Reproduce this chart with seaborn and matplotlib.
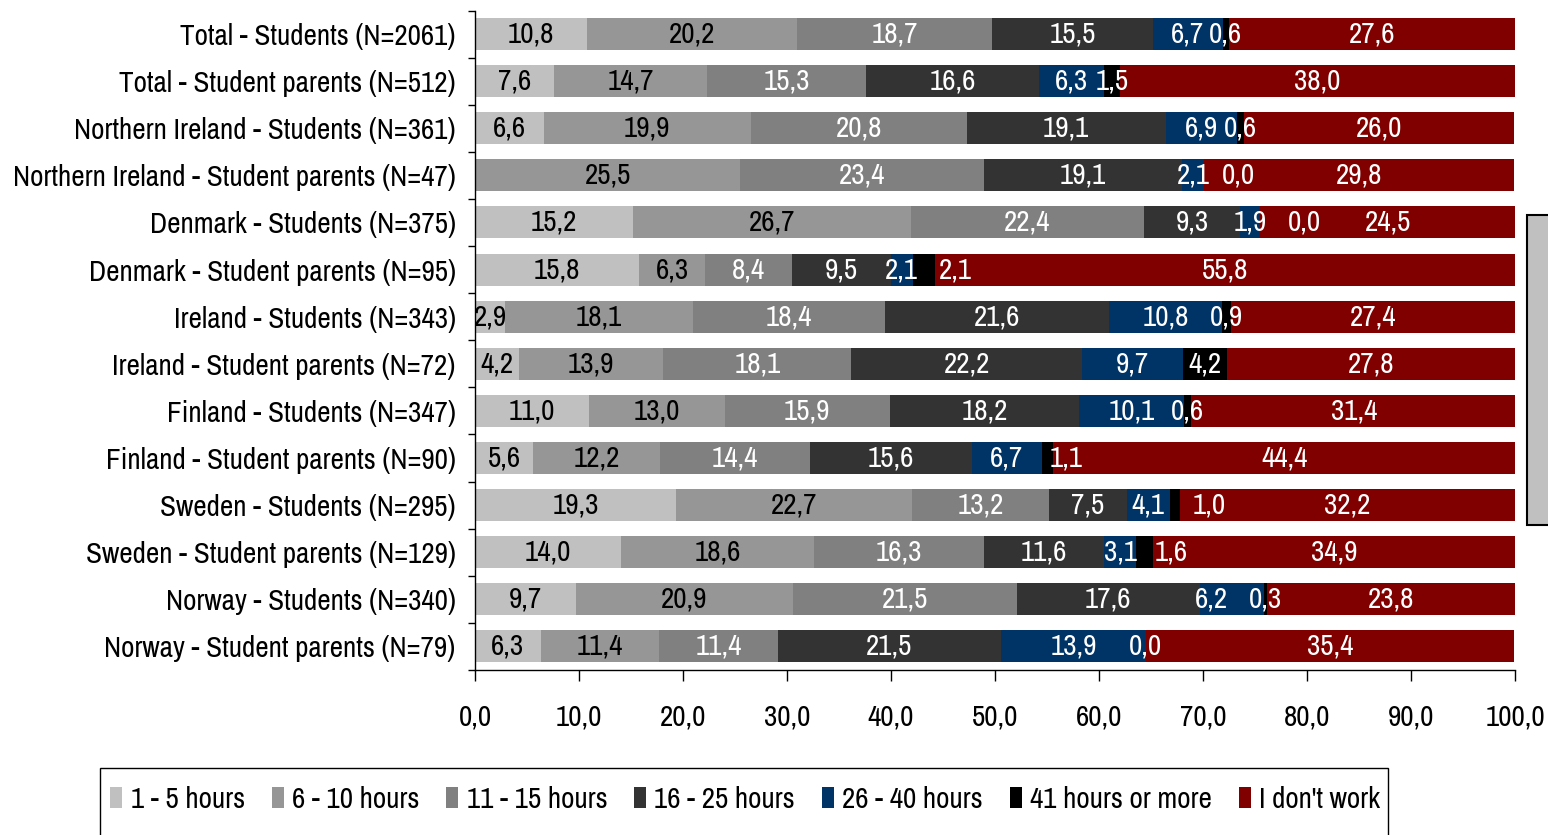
import numpy as np
import pandas as pd
import matplotlib
matplotlib.use("Agg")
import matplotlib.pyplot as plt
from matplotlib.patches import Patch, Rectangle
import seaborn as sns

# Rows, top to bottom
categories = [
    "Total - Students (N=2061)",
    "Total - Student parents (N=512)",
    "Northern Ireland - Students (N=361)",
    "Northern Ireland - Student parents (N=47)",
    "Denmark - Students (N=375)",
    "Denmark - Student parents (N=95)",
    "Ireland - Students (N=343)",
    "Ireland - Student parents (N=72)",
    "Finland - Students (N=347)",
    "Finland - Student parents (N=90)",
    "Sweden - Students (N=295)",
    "Sweden - Student parents (N=129)",
    "Norway - Students (N=340)",
    "Norway - Student parents (N=79)",
]

series_names = ["1 - 5 hours", "6 - 10 hours", "11 - 15 hours", "16 - 25 hours",
                "26 - 40 hours", "41 hours or more", "I don't work"]

h1_5 = [10.8, 7.6, 6.6, np.nan, 15.2, 15.8, 2.9, 4.2, 11.0, 5.6, 19.3, 14.0, 9.7, 6.3]
h6_10 = [20.2, 14.7, 19.9, 25.5, 26.7, 6.3, 18.1, 13.9, 13.0, 12.2, 22.7, 18.6, 20.9, 11.4]
h11_15 = [18.7, 15.3, 20.8, 23.4, 22.4, 8.4, 18.4, 18.1, 15.9, 14.4, 13.2, 16.3, 21.5, 11.4]
h16_25 = [15.5, 16.6, 19.1, 19.1, 9.3, 9.5, 21.6, 22.2, 18.2, 15.6, 7.5, 11.6, 17.6, 21.5]
h26_40 = [6.7, 6.3, 6.9, 2.1, 1.9, 2.1, 10.8, 9.7, 10.1, 6.7, 4.1, 3.1, 6.2, 13.9]
h41_more = [0.6, 1.5, 0.6, 0.0, 0.0, 2.1, 0.9, 4.2, 0.6, 1.1, 1.0, 1.6, 0.3, 0.0]
no_work = [27.6, 38.0, 26.0, 29.8, 24.5, 55.8, 27.4, 27.8, 31.4, 44.4, 32.2, 34.9, 23.8, 35.4]

colors = ["#C0C0C0", "#969696", "#808080", "#333333", "#003366", "#000000", "#800000"]
label_colors = ["black", "black", "white", "white", "white", "white", "white"]

# some labels of tiny segments were moved aside in the original
label_shift = {
    "26 - 40 hours": [0, 0, 0, 0, 0, 0, 0, 0, 0, 0, 0, 0, -2.0, 0],
    "41 hours or more": [0, 0, 0, 3.3, 4.3, 3.0, 0, 0, 0, 1.8, 3.3, 2.5, 0, 0],
}

FONT = ["Liberation Sans Narrow", "Archivo Narrow", "DejaVu Sans"]
FS = 21


def main():
    sns.set_theme(style="white")
    plt.rcParams["font.family"] = FONT
    plt.rcParams["text.color"] = "black"
    plt.rcParams["xtick.color"] = "black"
    plt.rcParams["ytick.color"] = "black"

    df = pd.DataFrame(dict(zip(series_names,
                               [h1_5, h6_10, h11_15, h16_25, h26_40, h41_more, no_work])),
                      index=categories)
    cum = df.fillna(0).cumsum(axis=1)

    fig = plt.figure(figsize=(15.48, 8.35), dpi=100)
    ax = fig.add_axes([475 / 1548, 1 - 670 / 835, 1040 / 1548, 659.5 / 835])

    # stacked bars: draw cumulative totals from the widest down
    for name, col in reversed(list(zip(series_names, colors))):
        sns.barplot(x=cum[name].values, y=categories, order=categories, orient="h",
                    color=col, saturation=1, width=0.68, ax=ax, linewidth=0)

    # value labels
    for j, name in enumerate(series_names):
        left = cum[name] - df[name].fillna(0)
        shift = label_shift.get(name, [0] * len(categories))
        for i, v in enumerate(df[name]):
            if np.isnan(v):
                continue
            xc = left.iloc[i] + v / 2 + shift[i]
            ax.text(xc, i, f"{v:.1f}".replace(".", ","), ha="center", va="center",
                    color=label_colors[j], fontsize=FS)

    ax.set_xlim(0, 100)
    ax.set_ylim(len(categories) - 0.5, -0.5)
    ticks = np.arange(0, 101, 10)
    ax.set_xticks(ticks)
    ax.set_xticklabels([f"{t:.1f}".replace(".", ",") for t in ticks])
    ax.set_yticks(np.arange(-0.5, len(categories), 1), minor=True)
    ax.tick_params(axis="y", which="major", length=0, pad=14, labelsize=FS)
    ax.tick_params(axis="y", which="minor", length=5, width=1, color="black", left=True)
    ax.tick_params(axis="x", which="major", length=8, width=1, color="black",
                   bottom=True, pad=16, labelsize=FS)
    ax.set_xlabel("")
    ax.set_ylabel("")
    for s in ["top", "right"]:
        ax.spines[s].set_visible(False)
    for s in ["left", "bottom"]:
        ax.spines[s].set_color("black")
        ax.spines[s].set_linewidth(1)

    # legend frame runs past the bottom edge in the original
    fig.patches.append(Rectangle((100 / 1548, -0.05), 1288 / 1548, 0.05 + 67 / 835,
                                 transform=fig.transFigure, facecolor="white",
                                 edgecolor="black", linewidth=1))
    handles = [Patch(facecolor=c, edgecolor="none", label=n) for n, c in zip(series_names, colors)]
    fig.legend(handles=handles, loc="center left",
               bbox_to_anchor=(100 / 1548, 1 - 799 / 835), ncol=7,
               fontsize=FS, frameon=False,
               handlelength=0.42, handleheight=0.7, handletextpad=0.28,
               columnspacing=0.92, borderpad=0.35, borderaxespad=0)

    # clipped grey box at the right edge
    fig.patches.append(Rectangle((1527 / 1548, 1 - 525 / 835), 0.05, 310 / 835,
                                 transform=fig.transFigure, facecolor="#C0C0C0",
                                 edgecolor="black", linewidth=1.5))

    fig.savefig("out.png", dpi=100)


if __name__ == "__main__":
    main()
